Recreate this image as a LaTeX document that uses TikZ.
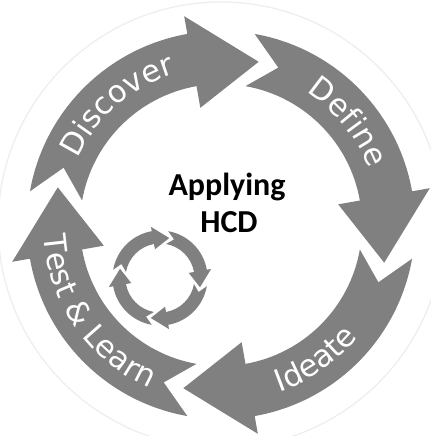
\documentclass[tikz,border=0pt]{standalone}
\usepackage{fontspec}
\usepackage{xcolor}
\usepackage{tikz}
\usetikzlibrary{decorations.text}
\usetikzlibrary{positioning}

\newfontfamily\arcfamily{DejaVu Sans}
\newfontfamily\titlefamily{Carlito}
\definecolor{arrowgrey}{RGB}{128,128,128}
\definecolor{ringgrey}{RGB}{238,238,238}

\newcommand{\arctext}{\arcfamily\fontsize{23}{27}\selectfont}
% curved block arrow of the cycle, #1 = angle of its tail
\newcommand{\cyclearrow}[1]{%
  \fill [arrowgrey] (#1:194) arc [start angle=#1, end angle=#1-70, radius=194]
    -- (#1-70:212) -- (#1-93:167.5) -- (#1-70:119) -- (#1-70:141)
    arc [start angle=#1-70, end angle=#1, radius=141] -- (#1-10:167.5) -- cycle;
}

\tikzset{
  arclabel/.style={decorate, decoration={text along path, text align=center, text color=white}},
  title/.style={font=\titlefamily\bfseries\fontsize{24}{28}\selectfont, inner sep=0.75pt, anchor=base}
}

\begin{document}
\begin{tikzpicture}[x=0.75pt,y=0.75pt]
  \useasboundingbox (0,0) rectangle (431,436);

    %Shape: faint outer ring
    \draw [ringgrey, line width=1] (221,211) circle [radius=223];

    %Shape: big cycle
    \begin{scope}[shift={(221,211)}]
      \foreach \a in {170,80,-10,-100} {\cyclearrow{\a}}
      % Arc Text
      \path [arclabel, decoration={text={|\arctext|Discover}}] (176:158) arc [start angle=176, end angle=86, radius=158];
      \path [arclabel, decoration={text={|\arctext|Define}}] (84:158) arc [start angle=84, end angle=-6, radius=158];
      \path [arclabel, decoration={text={|\arctext|Ideate}}] (-100:177) arc [start angle=-100, end angle=-10, radius=177];
      \path [arclabel, decoration={text={|\arctext|Test {\&} Learn}}] (165:178) arc [start angle=165, end angle=265, radius=178];
    \end{scope}

    %Shape: small cycle
    \begin{scope}[shift={(160,158)}, scale=0.245]
      \foreach \a in {170,80,-10,-100} {\cyclearrow{\a}}
    \end{scope}

    % Text Node
    \node [title] (applying) at (227,240) {Applying};
    \node [title] (hcd) at (229,203) {HCD};

  \end{tikzpicture}
\end{document}
